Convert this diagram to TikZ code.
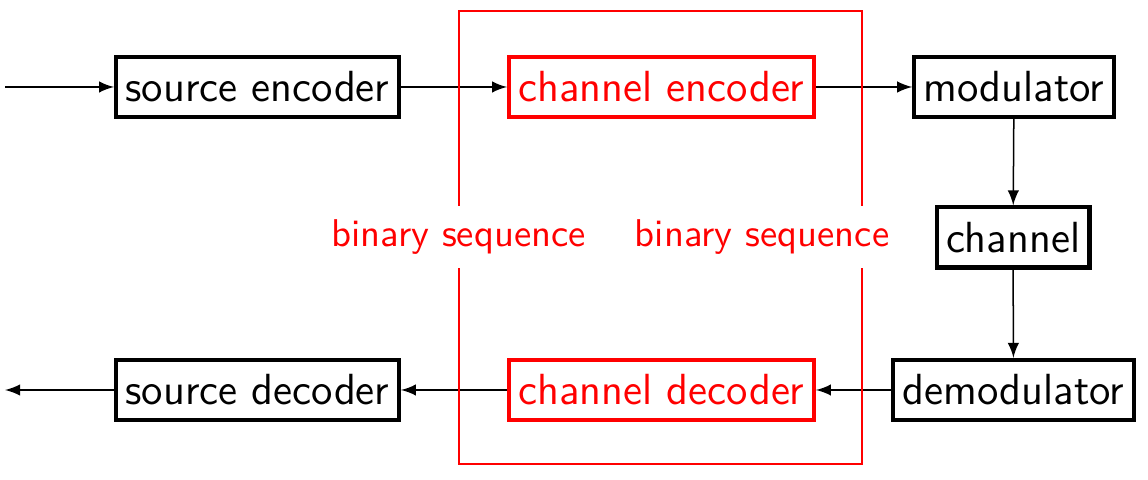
\documentclass[tikz,border=0pt]{standalone}
\usepackage{tikz}
\usetikzlibrary{%
arrows,
calc,
positioning
}

\begin{document}
\begin{tikzpicture}[x=0.00936cm,y=-0.00936cm,
    font=\sffamily\fontsize{11.6}{14}\selectfont,
    block/.style={draw,line width=1.1pt,inner xsep=2.5pt,minimum height=16pt},
    redblock/.style={block,red},
    seqlabel/.style={red,fill=white,inner sep=0pt,minimum height=16.5pt,
        font=\sffamily\fontsize{10.3}{13}\selectfont},
    flow/.style={-latex,line width=0.4pt}]
\useasboundingbox (0,0) rectangle (1148,480);
    % upper chain
    \node[block] (senc) at (257.5,87) {source encoder};
    \node[redblock] (cenc) at (661.5,87) {channel encoder};
    \node[block] (mod) at (1014,87) {modulator};
    \node[block] (chan) at (1013,237.5) {channel};
    % lower chain
    \node[block] (demod) at (1013.5,390) {demodulator};
    \node[redblock] (cdec) at (661.5,390) {channel decoder};
    \node[block] (sdec) at (257.5,390) {source decoder};
    \coordinate (in) at (5,87);
    \coordinate (out) at (5,390);
    \draw[flow] (in) -- (senc);
        \foreach \a/\b in {senc/cenc,cenc/mod,mod/chan,chan/demod,demod/cdec,cdec/sdec,sdec/out} {
                \draw[flow] (\a) -- (\b);
        }
    % channel coding frame
    \coordinate (tl) at (459,11);
    \coordinate (br) at (862,464);
    \draw[red,line width=0.75pt] (tl) rectangle (br);
    \node[seqlabel] (seqa) at (458.5,237) {binary sequence};
    \node[seqlabel] (seqb) at (762,237) {binary sequence};
\end{tikzpicture}
\end{document}
